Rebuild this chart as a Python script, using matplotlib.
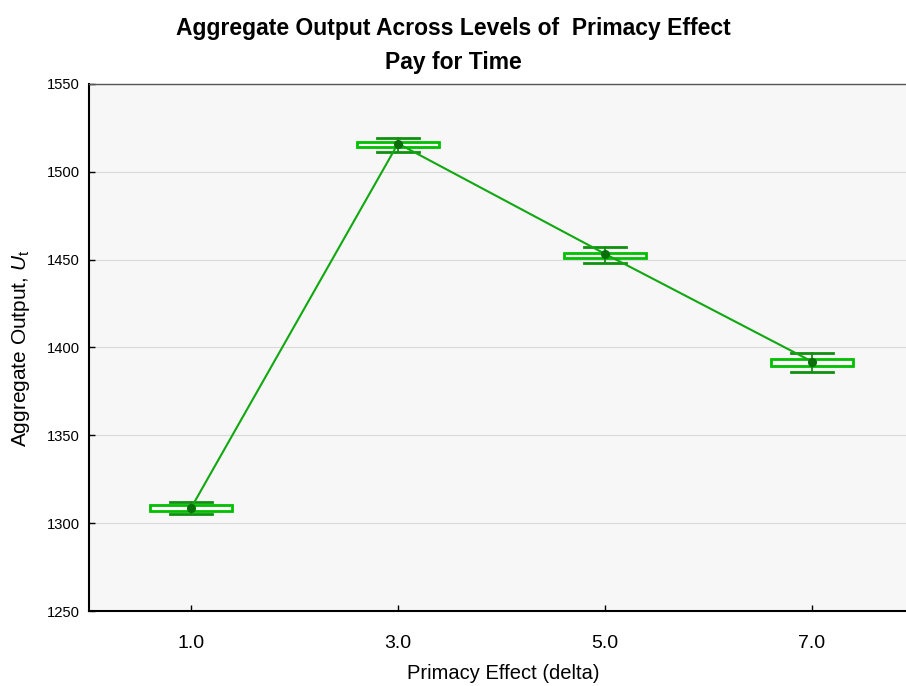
import matplotlib
matplotlib.use("Agg")
import matplotlib.pyplot as plt

plt.rcParams['font.family'] = ['Liberation Sans', 'DejaVu Sans']
plt.rcParams['mathtext.fontset'] = 'custom'
plt.rcParams['mathtext.rm'] = 'Liberation Sans'
plt.rcParams['mathtext.it'] = 'Liberation Sans:italic'

# Levels of the primacy effect and summary statistics of aggregate output
categories = ["1.0", "3.0", "5.0", "7.0"]
means = [1308.6, 1516.1, 1453.3, 1392.0]
box_low = [1306.8, 1514.2, 1451.0, 1389.3]
box_high = [1310.5, 1517.1, 1454.0, 1393.3]
whisk_low = [1305.2, 1511.5, 1448.0, 1386.1]
whisk_high = [1312.1, 1519.4, 1457.3, 1396.7]
y_ticks = [1250, 1300, 1350, 1400, 1450, 1500, 1550]

fig = plt.figure(figsize=(9.06, 6.86), dpi=100)
ax = fig.add_axes([0.0982, 0.1093, 0.9018, 0.7683])
ax.set_facecolor('#f7f7f7')

positions = list(range(len(categories)))
stats = []
for lo, q1, m, q3, hi in zip(whisk_low, box_low, means, box_high, whisk_high):
    stats.append(dict(whislo=lo, q1=q1, med=m, q3=q3, whishi=hi, fliers=[]))

ax.bxp(stats, positions=positions, widths=0.4, capwidths=0.2,
       patch_artist=True, showfliers=False,
       boxprops=dict(facecolor='white', edgecolor='#00c000', linewidth=2),
       whiskerprops=dict(color='#109010', linewidth=1.3),
       capprops=dict(color='#109010', linewidth=2),
       medianprops=dict(linewidth=0),
       zorder=2)

ax.plot(positions, means, color='#10a810', linewidth=1.5, zorder=3)
ax.plot(positions, means, linestyle='none', marker='o', markersize=5.5,
        color='#0a6e0a', zorder=4)

ax.set_xlim(-0.493, 3.454)
ax.set_ylim(1250, 1550)
ax.set_xticks(positions)
ax.set_xticklabels(categories, fontsize=14)
ax.set_yticks(y_ticks)
ax.set_yticklabels([str(v) for v in y_ticks], fontsize=10.6)
ax.tick_params(axis='both', direction='in', length=4, width=1, color='black')
ax.tick_params(axis='x', pad=17)
ax.tick_params(axis='y', pad=6.5)

ax.yaxis.grid(True, color='#d9d9d9', linewidth=0.8)
ax.set_axisbelow(True)

ax.spines['left'].set_linewidth(1.5)
ax.spines['bottom'].set_linewidth(1.5)
ax.spines['top'].set_color('#555555')
ax.spines['top'].set_linewidth(1.0)
ax.spines['right'].set_visible(False)

ax.set_xlabel('Primacy Effect (delta)', fontsize=14.5)
ax.xaxis.set_label_coords(0.507, -0.100)
ax.set_ylabel(r'Aggregate Output, $\mathit{U}_{\mathrm{t}}$', fontsize=15)
ax.yaxis.set_label_coords(-0.070, 0.499)

fig.text(0.5, 0.958, 'Aggregate Output Across Levels of  Primacy Effect',
         ha='center', va='center', fontsize=16.5, fontweight='bold')
fig.text(0.5, 0.909, 'Pay for Time', ha='center', va='center',
         fontsize=16.5, fontweight='bold')

fig.savefig('out.png', dpi=100)
